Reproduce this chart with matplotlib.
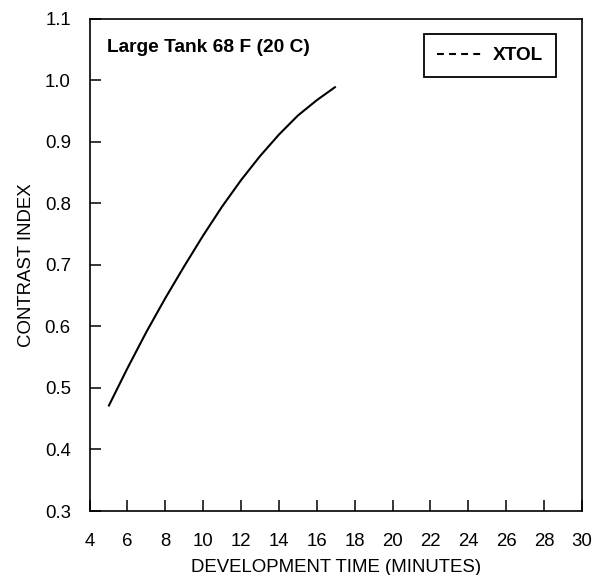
import matplotlib
matplotlib.use("Agg")
import matplotlib.pyplot as plt
from matplotlib.lines import Line2D

plt.rcParams['font.family'] = ['Liberation Sans', 'DejaVu Sans']

# Data
dev_time = [5, 6, 7, 8, 9, 10, 11, 12, 13, 14, 15, 16, 17]
contrast_index = [0.47, 0.532, 0.591, 0.646, 0.698, 0.748, 0.795, 0.838,
                  0.877, 0.912, 0.943, 0.968, 0.99]
x_ticks = list(range(4, 31, 2))
y_ticks = [0.3, 0.4, 0.5, 0.6, 0.7, 0.8, 0.9, 1.0, 1.1]
series_name = "XTOL"
title_text = "Large Tank 68 F (20 C)"

fig = plt.figure(figsize=(6.04, 5.75), dpi=100)
ax = fig.add_axes([0.1482, 0.1113, 0.8154, 0.8557])

ax.plot(dev_time, contrast_index, color='black', linewidth=1.5,
        solid_capstyle='butt', solid_joinstyle='round')

ax.set_xlim(4, 30)
ax.set_ylim(0.3, 1.1)
ax.set_xticks(x_ticks)
ax.set_xticklabels([str(v) for v in x_ticks])
ax.set_yticks(y_ticks)
ax.set_yticklabels([f"{v:.1f}" for v in y_ticks])

ax.tick_params(axis='both', direction='in', length=8, width=1.1, labelsize=13.4, colors='black')
ax.tick_params(axis='x', pad=16)
ax.tick_params(axis='y', pad=13.5)
ax.tick_params(top=False, right=False)
for s in ax.spines.values():
    s.set_linewidth(1.2)
    s.set_color('black')

ax.set_xlabel("DEVELOPMENT TIME (MINUTES)", fontsize=13.4, labelpad=6.5)
ax.set_ylabel("CONTRAST INDEX", fontsize=13.4, labelpad=7)

ax.text(0.0345, 0.9335, title_text, transform=ax.transAxes, fontsize=13.8,
        fontweight='bold', ha='left', va='baseline')

handle = Line2D([], [], color='black', linewidth=1.5, linestyle=(0, (3.3, 2.5)))
leg = ax.legend([handle], [series_name], loc='center',
                bbox_to_anchor=(0.8129, 0.9251), fancybox=False, framealpha=1,
                edgecolor='black', prop={'weight': 'bold', 'size': 13.7},
                handlelength=2.5, handletextpad=0.45, borderpad=0.68,
                borderaxespad=0)
leg.get_frame().set_linewidth(1.3)

fig.savefig("out.png", dpi=100)
